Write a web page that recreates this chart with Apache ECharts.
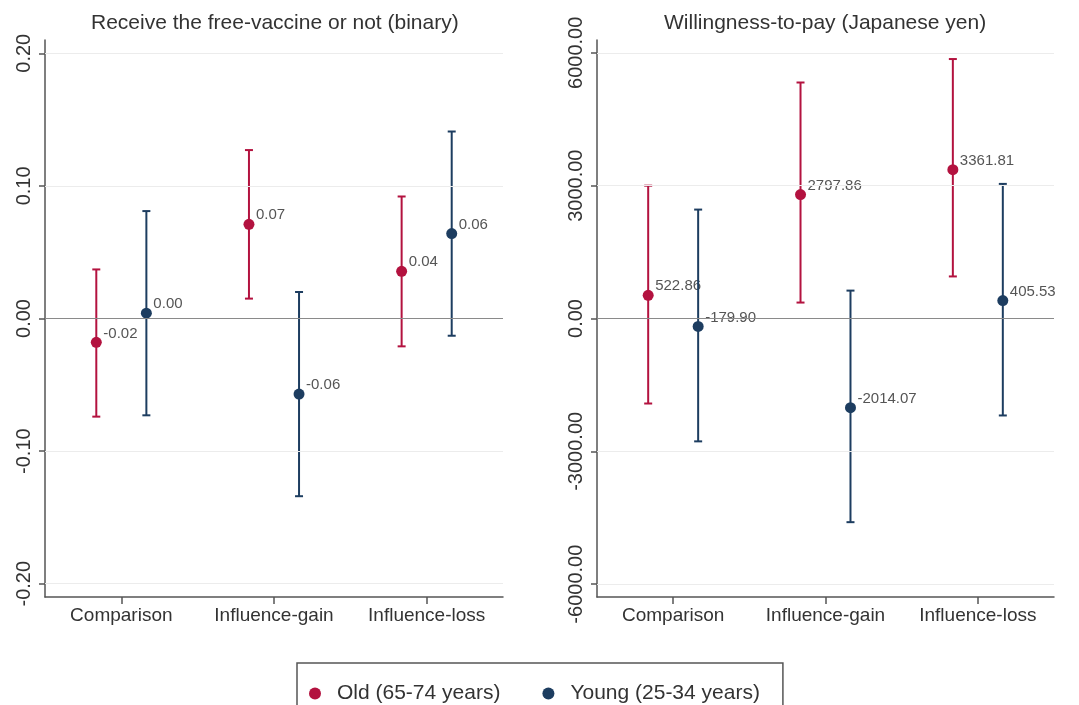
<!DOCTYPE html>
<html>
<head>
<meta charset="utf-8">
<script src="https://cdn.jsdelivr.net/npm/echarts@6/dist/echarts.min.js"></script>
<style>
	html, body { margin: 0; padding: 0; background: #fff; }
	#main { width: 1079px; height: 705px; }
</style>
</head>
<body>
<div id="main"></div>
<script>
	const categories = ['Comparison', 'Influence-gain', 'Influence-loss']

	// left panel: receive the free vaccine (binary)
	const binOldEst = [-0.018, 0.071, 0.0356]
	const binOldHi = [0.037, 0.127, 0.092]
	const binOldLo = [-0.074, 0.015, -0.021]
	const binYoungEst = [0.004, -0.057, 0.064]
	const binYoungHi = [0.081, 0.020, 0.141]
	const binYoungLo = [-0.073, -0.134, -0.013]
	const binTicks = [-0.2, -0.1, 0, 0.1, 0.2]

	// right panel: willingness to pay (yen)
	const wtpOldEst = [522.86, 2797.86, 3361.81]
	const wtpOldHi = [3000, 5330, 5860]
	const wtpOldLo = [-1920, 360, 950]
	const wtpYoungEst = [-179.90, -2014.07, 405.53]
	const wtpYoungHi = [2460, 630, 3040]
	const wtpYoungLo = [-2775, -4600, -2190]
	const wtpTicks = [-6000, -3000, 0, 3000, 6000]

	const oldColor = '#b3123f'
	const youngColor = '#1d3d60'
	const font = 'Liberation Sans, Arial, sans-serif'

	function rows(est, hi, lo) {
		return est.map(function (v, i) { return [i, v, hi[i], lo[i]] })
	}

	function errBars(shift, color) {
		return function (params, api) {
			const band = api.size([1, 0])[0]
			const dx = band * shift
			const mid = api.coord([api.value(0), api.value(1)])
			const top = api.coord([api.value(0), api.value(2)])
			const bot = api.coord([api.value(0), api.value(3)])
			const x = mid[0] + dx
			const line = { stroke: color, lineWidth: 2 }
			return {
				type: 'group',
				children: [
					{ type: 'line', shape: { x1: x, y1: top[1], x2: x, y2: bot[1] }, style: line },
					{ type: 'line', shape: { x1: x - 4, y1: top[1], x2: x + 4, y2: top[1] }, style: line },
					{ type: 'line', shape: { x1: x - 4, y1: bot[1], x2: x + 4, y2: bot[1] }, style: line },
					{ type: 'circle', shape: { cx: x, cy: mid[1], r: 5.5 }, style: { fill: color } },
					{
						type: 'text', x: x + 7, y: mid[1] - 9,
						style: {
							text: api.value(1).toFixed(2), fill: '#555',
							font: '15px ' + font, verticalAlign: 'middle'
						}
					}
				]
			}
		}
	}

	function gridLines(ticks) {
		return {
			silent: true,
			symbol: 'none',
			label: { show: false },
			data: ticks.map(function (t) {
				return {
					yAxis: t,
					lineStyle: t === 0
						? { color: '#8a8a8a', width: 1, type: 'solid' }
						: { color: '#ececec', width: 1, type: 'solid' }
				}
			})
		}
	}

	function xAxis(gridIndex) {
		return {
			type: 'category',
			gridIndex: gridIndex,
			data: categories,
			boundaryGap: true,
			axisLine: { onZero: false, lineStyle: { color: '#555', width: 1.5 } },
			axisTick: { show: true, interval: 0, alignWithLabel: true, length: 7, lineStyle: { color: '#555', width: 1.5 } },
			axisLabel: { interval: 0, color: '#333', fontSize: 19, fontFamily: font, margin: 9 },
			splitLine: { show: false }
		}
	}

	function yAxis(gridIndex, lim, ticks) {
		return {
			type: 'value',
			gridIndex: gridIndex,
			min: -lim,
			max: lim,
			axisLine: { show: true, lineStyle: { color: '#555', width: 1.5 } },
			axisTick: { show: true, length: 6, customValues: ticks, lineStyle: { color: '#555', width: 1.5 } },
			axisLabel: {
				customValues: ticks,
				rotate: 90,
				margin: 11,
				color: '#333',
				fontSize: 20,
				fontFamily: font,
				formatter: function (v) { return Number(v).toFixed(2) }
			},
			splitLine: { show: false }
		}
	}

	const chart = echarts.init(document.getElementById('main'))
	var option = {
		backgroundColor: '#fff',
		animation: false,
		title: [
			{
				text: 'Receive the free-vaccine or not (binary)',
				left: 86, top: 8,
				textStyle: { color: '#333', fontSize: 21, fontWeight: 'normal', fontFamily: font }
			},
			{
				text: 'Willingness-to-pay (Japanese yen)',
				left: 659, top: 8,
				textStyle: { color: '#333', fontSize: 21, fontWeight: 'normal', fontFamily: font }
			}
		],
		legend: {
			left: 297,
			top: 663,
			padding: [20, 23, 30, 12],
			borderColor: '#555',
			borderWidth: 1.5,
			itemWidth: 34,
			itemHeight: 12,
			itemGap: 42,
			icon: 'circle',
			textStyle: { color: '#333', fontSize: 21, fontFamily: font },
			data: ['Old (65-74 years)', 'Young (25-34 years)']
		},
		grid: [
			{ left: 45, right: 576, top: 40, bottom: 108 },
			{ left: 597, right: 25, top: 40, bottom: 108 }
		],
		xAxis: [xAxis(0), xAxis(1)],
		yAxis: [yAxis(0, 0.21, binTicks), yAxis(1, 6290, wtpTicks)],
		series: [
			{
				name: 'Old (65-74 years)', type: 'custom', xAxisIndex: 0, yAxisIndex: 0,
				itemStyle: { color: oldColor },
				renderItem: errBars(-0.164, oldColor),
				encode: { x: 0, y: [1, 2, 3] },
				data: rows(binOldEst, binOldHi, binOldLo),
				markLine: gridLines(binTicks),
				z: 3
			},
			{
				name: 'Young (25-34 years)', type: 'custom', xAxisIndex: 0, yAxisIndex: 0,
				itemStyle: { color: youngColor },
				renderItem: errBars(0.164, youngColor),
				encode: { x: 0, y: [1, 2, 3] },
				data: rows(binYoungEst, binYoungHi, binYoungLo),
				z: 3
			},
			{
				name: 'Old (65-74 years)', type: 'custom', xAxisIndex: 1, yAxisIndex: 1,
				itemStyle: { color: oldColor },
				renderItem: errBars(-0.164, oldColor),
				encode: { x: 0, y: [1, 2, 3] },
				data: rows(wtpOldEst, wtpOldHi, wtpOldLo),
				markLine: gridLines(wtpTicks),
				z: 3
			},
			{
				name: 'Young (25-34 years)', type: 'custom', xAxisIndex: 1, yAxisIndex: 1,
				itemStyle: { color: youngColor },
				renderItem: errBars(0.164, youngColor),
				encode: { x: 0, y: [1, 2, 3] },
				data: rows(wtpYoungEst, wtpYoungHi, wtpYoungLo),
				z: 3
			}
		]
	}
	chart.setOption(option)
</script>
</body>
</html>
